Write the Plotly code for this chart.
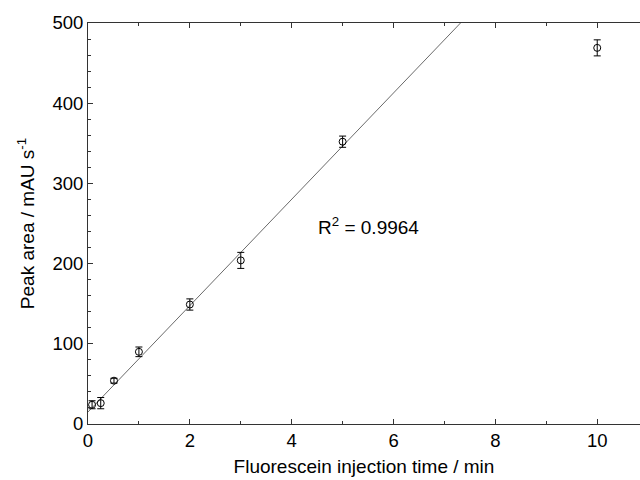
import plotly.graph_objects as go

# Data
inj_time = [0.08, 0.25, 0.51, 1.0, 2.0, 3.0, 5.0, 10.0]
peak_area = [24, 26, 54, 90, 149, 204, 352, 469]
peak_err = [5, 7, 3, 6, 7, 10, 7, 10]

fit_slope = 66.3
fit_intercept = 15.0
fit_x = [0.0, 7.315]
fit_y = [fit_intercept + fit_slope * v for v in fit_x]

font_family = "Liberation Sans, Arial, sans-serif"

fig = go.Figure()
fig.add_trace(go.Scatter(
    x=fit_x, y=fit_y, mode="lines",
    line=dict(color="#444444", width=0.8),
    showlegend=False, hoverinfo="skip"))
fig.add_trace(go.Scatter(
    x=inj_time, y=peak_area, mode="markers",
    marker=dict(symbol="circle-open", size=7, color="black", line=dict(width=1, color="black")),
    error_y=dict(type="data", array=peak_err, visible=True, color="black", thickness=1, width=3.5),
    showlegend=False))

fig.add_annotation(x=5.5, y=247, xref="x", yref="y", text="R<sup>2</sup> = 0.9964",
                   showarrow=False, font=dict(size=19, color="black", family=font_family))

axis_common = dict(
    showgrid=False, zeroline=False, showline=True, linecolor="#333333", linewidth=1,
    ticks="inside", tickcolor="#333333", ticklen=5, tickwidth=1,
    tickfont=dict(size=18.5, color="black", family=font_family),
)

fig.update_xaxes(
    range=[0, 10.84], dtick=2, tick0=0, mirror="ticks",
    minor=dict(dtick=1, ticks="inside", ticklen=3, tickcolor="#333333"),
    title=dict(text="Fluorescein injection time / min", font=dict(size=19, color="black", family=font_family), standoff=9),
    **axis_common)
fig.update_yaxes(
    range=[0, 500], dtick=100, tick0=0, mirror=False,
    minor=dict(dtick=20, ticks="inside", ticklen=3, tickcolor="#333333"),
    title=dict(text="Peak area / mAU s<sup>-1</sup>", font=dict(size=19, color="black", family=font_family), standoff=12),
    **axis_common)

fig.update_layout(
    width=640, height=480,
    margin=dict(l=88, r=0, t=23, b=56),
    paper_bgcolor="white", plot_bgcolor="white",
)

fig.write_html("out.html")
